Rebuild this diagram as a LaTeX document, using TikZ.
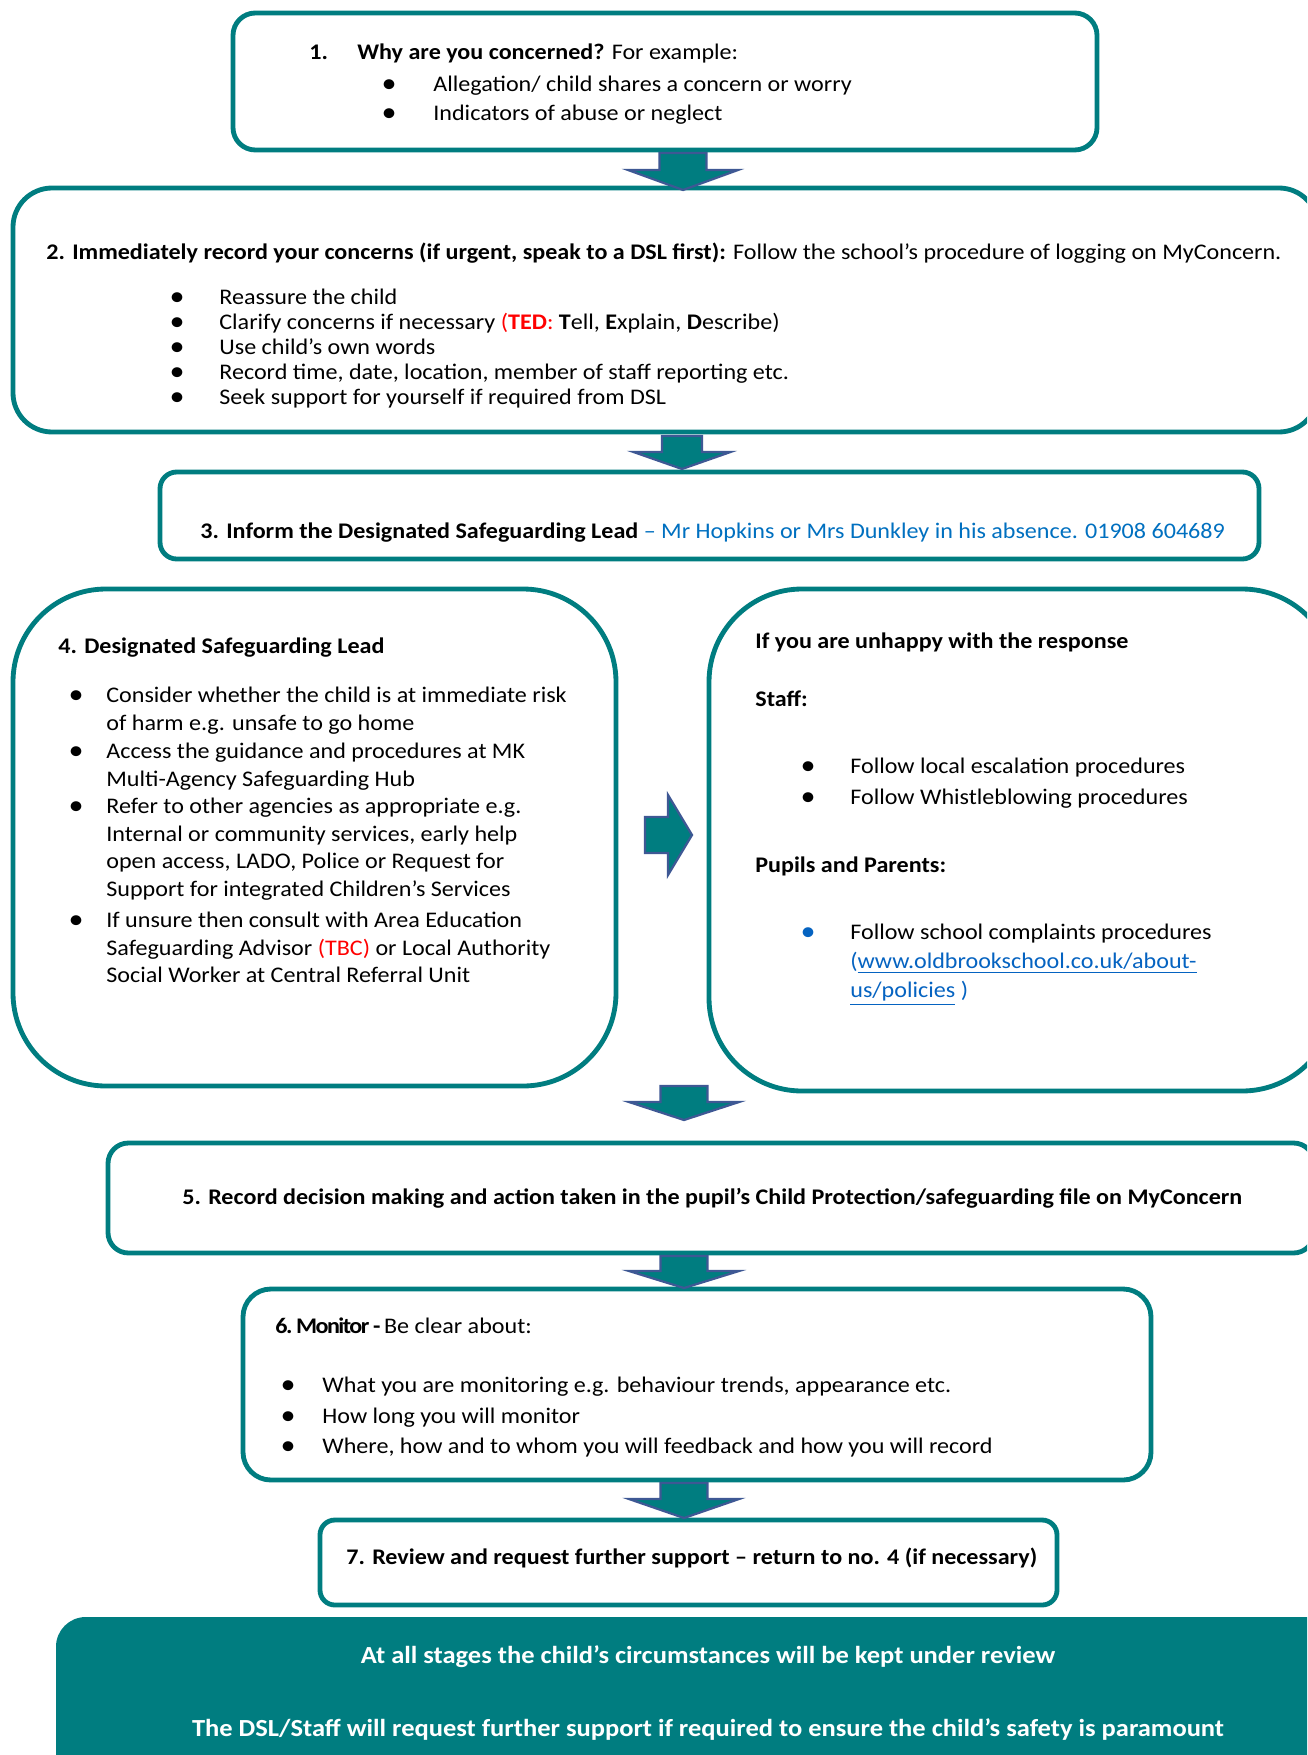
\documentclass[tikz,border=0pt]{standalone}
\usepackage{fontspec}
\setmainfont{Carlito}[FakeStretch=1.08]
\usepackage{tikz}
\usetikzlibrary{fit}
\definecolor{myteal}{RGB}{0,125,128}
\definecolor{myarrow}{RGB}{62,88,148}
\definecolor{myred}{RGB}{255,0,0}
\definecolor{myblue}{RGB}{0,112,192}
\definecolor{mylink}{RGB}{5,99,193}

\tikzset{
  box/.style={draw=myteal, line width=2.6pt, inner sep=0pt},
  txt/.style={anchor=base west, inner sep=0pt, align=left, yshift=-0.9pt},
  dot/.style={anchor=center, inner sep=0pt, yshift=2.0pt, font=\fontsize{15}{15}\selectfont},
  flowarrow/.style={fill=myteal, draw=myarrow, line width=1.2pt, line join=miter},
  bandtxt/.style={anchor=base, inner sep=0pt, yshift=-0.9pt, text=white, font=\fontsize{13.2}{15}\selectfont\bfseries}
}

\begin{document}
\fontsize{12}{13.4}\selectfont
\begin{tikzpicture}[x=0.538pt, y=-0.538pt]

\useasboundingbox (0,0) rectangle (1307,1755);
\clip (0,0) rectangle (1307,1755);
\fill[white] (0,0) rectangle (1307,1755);

% boxes
\node[box, rounded corners=12pt, fit={(233,13) (1097,150)}] (why) {};
\node[box, rounded corners=21pt, fit={(13,188) (1318,432)}] (record) {};
\node[box, rounded corners=9pt, fit={(160,472) (1259,559)}] (inform) {};
\node[box, rounded corners=50pt, fit={(13,589) (616,1086)}] (dsl) {};
\node[box, rounded corners=50pt, fit={(709,589) (1335,1091)}] (unhappy) {};
\node[box, rounded corners=11pt, fit={(108,1143) (1314,1253)}] (decision) {};
\node[box, rounded corners=15pt, fit={(243,1289) (1151,1480)}] (monitor) {};
\node[box, rounded corners=8pt, fit={(320,1520) (1057,1605)}] (review) {};
\node[fill=myteal, rounded corners=16pt, inner sep=0pt, fit={(56,1617) (1345,1800)}] (band) {};

% arrows between the boxes
\foreach \cx/\sw/\hw/\yt/\yb/\yp in {683/23.5/55/153/170/190, 682/20/48.5/436/452/469,
    684/23.5/55/1086/1102/1120, 684/23.5/55/1256/1271/1288, 684/23.5/55/1483/1499/1518}{
  \draw[flowarrow] ({\cx-\sw},\yt) -- ({\cx-\sw},\yb) -- ({\cx-\hw},\yb) -- (\cx,\yp)
    -- ({\cx+\hw},\yb) -- ({\cx+\sw},\yb) -- ({\cx+\sw},\yt) -- cycle;
}
\draw[flowarrow] (645,817) -- (668,817) -- (668,795) -- (692,835) -- (668,875) -- (668,853) -- (645,853) -- cycle;

% 1
\node[txt, font=\bfseries] (n1) at (309,58) {1.};
\node[txt] (why-h) at (357,58) {\textbf{Why are you concerned?} For example:};
\node[dot] (why-d1) at (389,90) {\textbullet};
\node[txt] (why-t1) at (433,90) {Allegation/ child shares a concern or worry};
\node[dot] (why-d2) at (389,119) {\textbullet};
\node[txt] (why-t2) at (433,119) {Indicators of abuse or neglect};

% 2
\node[txt] (record-h) at (46,258) {\textbf{2. Immediately record your concerns (if urgent, speak to a DSL first):} Follow the school’s procedure of logging on MyConcern.};
\foreach \y/\t [count=\i] in {303/{Reassure the child},
    328/{Clarify concerns if necessary {\color{myred}(\textbf{TED}:} \textbf{T}ell, \textbf{E}xplain, \textbf{D}escribe)},
    353/{Use child’s own words},
    378/{Record time, date, location, member of staff reporting etc.},
    403/{Seek support for yourself if required from DSL}}{
  \node[dot] (record-d\i) at (177,\y) {\textbullet};
  \node[txt] (record-t\i) at (219,\y) {\t};
}

% 3
\node[txt] (inform-h) at (200,537) {\textbf{3. Inform the Designated Safeguarding Lead} {\color{myblue}-- Mr Hopkins or Mrs Dunkley in his absence. 01908 604689}};

% 4 (multi-line texts sit on their last line)
\node[txt, font=\bfseries] (dsl-h) at (58,652) {4. Designated Safeguarding Lead};
\begin{scope}[every node/.append style={font=\fontsize{12}{14.8}\selectfont}]
\node[dot] (dsl-d1) at (76,701) {\textbullet};
\node[txt] (dsl-t1) at (106,728.5) {Consider whether the child is at immediate risk\\of harm e.g. unsafe to go home};
\node[dot] (dsl-d2) at (76,757) {\textbullet};
\node[txt] (dsl-t2) at (106,784.5) {Access the guidance and procedures at MK\\Multi-Agency Safeguarding Hub};
\node[dot] (dsl-d3) at (76,812) {\textbullet};
\node[txt] (dsl-t3) at (106,894.5) {Refer to other agencies as appropriate e.g.\\Internal or community services, early help\\open access, LADO, Police or Request for\\Support for integrated Children’s Services};
\node[dot] (dsl-d4) at (76,926) {\textbullet};
\node[txt] (dsl-t4) at (106,981) {If unsure then consult with Area Education\\Safeguarding Advisor {\color{myred}(TBC)} or Local Authority\\Social Worker at Central Referral Unit};
\end{scope}

% unhappy with the response
\node[txt, font=\bfseries] (unhappy-h) at (755,647) {If you are unhappy with the response};
\node[txt, font=\bfseries] (staff-h) at (755,705) {Staff:};
\node[dot] (staff-d1) at (808,772) {\textbullet};
\node[txt] (staff-t1) at (850,772) {Follow local escalation procedures};
\node[dot] (staff-d2) at (808,803) {\textbullet};
\node[txt] (staff-t2) at (850,803) {Follow Whistleblowing procedures};
\node[txt, font=\bfseries] (pupils-h) at (755,871) {Pupils and Parents:};
\node[dot, text=mylink] (pupils-d1) at (808,938) {\textbullet};
\node[txt, font=\fontsize{12}{15.6}\selectfont] (pupils-t1) at (850,996) {Follow school complaints procedures\\{\color{mylink}(\underline{www.oldbrookschool.co.uk/about-}}\\{\color{mylink}\underline{us/policies} )}};

% 5
\node[txt, font=\bfseries] (decision-h) at (182,1203) {5. Record decision making and action taken in the pupil’s Child Protection/safeguarding file on MyConcern};

% 6
\node[txt] (monitor-h) at (275,1332) {{\bfseries\addfontfeature{LetterSpace=-7}6.\,Monitor\,-}\,Be clear about:};
\foreach \y/\t [count=\i] in {1391/{What you are monitoring e.g. behaviour trends, appearance etc.},
    1422/{How long you will monitor},
    1452/{Where, how and to whom you will feedback and how you will record}}{
  \node[dot] (monitor-d\i) at (288,\y) {\textbullet};
  \node[txt] (monitor-t\i) at (322,\y) {\t};
}

% 7
\node[txt, font=\bfseries] (review-h) at (346,1563) {7. Review and request further support -- return to no. 4 (if necessary)};

% stages
\node[bandtxt] (band-t1) at (708,1662) {At all stages the child’s circumstances will be kept under review};
\node[bandtxt] (band-t2) at (708,1735) {The DSL/Staff will request further support if required to ensure the child’s safety is paramount};

\end{tikzpicture}
\end{document}
